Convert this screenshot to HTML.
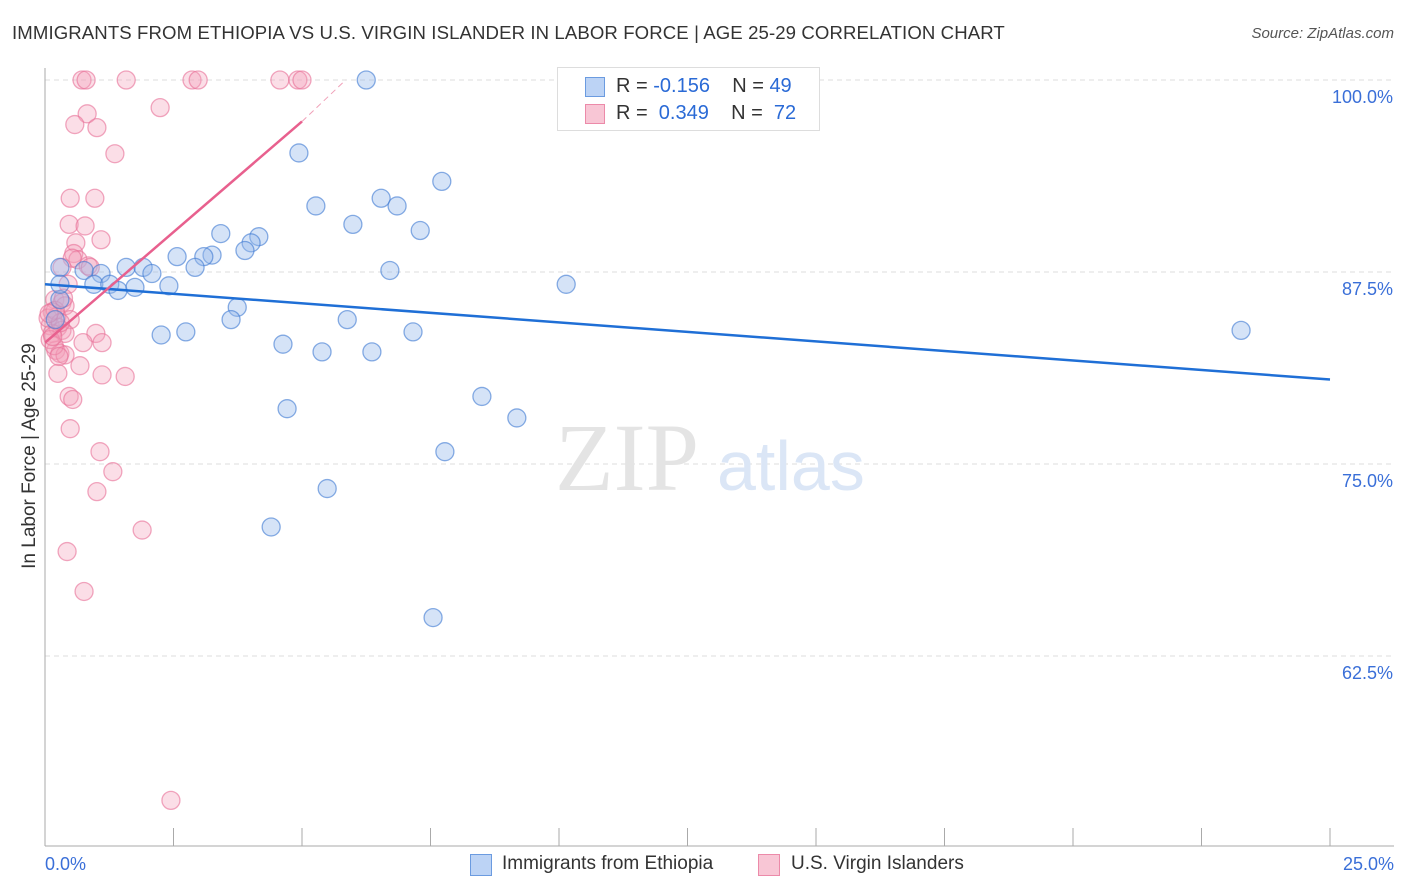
<!DOCTYPE html>
<html><head><meta charset="utf-8"><style>
body{margin:0;background:#fff;font-family:"Liberation Sans",sans-serif;}
#wrap{position:relative;width:1406px;height:892px;overflow:hidden;}
.t{position:absolute;white-space:nowrap;}
</style></head><body>
<div id="wrap">
<div class="t" style="left:12px;top:22px;font-size:18.6px;color:#333;letter-spacing:0.1px;">IMMIGRANTS FROM ETHIOPIA VS U.S. VIRGIN ISLANDER IN LABOR FORCE | AGE 25-29 CORRELATION CHART</div>
<div class="t" style="right:12px;top:25px;font-size:15px;color:#555;font-style:italic;">Source: ZipAtlas.com</div>
<svg id="plot" width="1406" height="892" style="position:absolute;left:0;top:0"></svg>
</div>
<script>
const xTickLabels=["0.0%","25.0%"];
const yTicks=[100,87.5,75,62.5];
const yTickLabels=["100.0%","87.5%","75.0%","62.5%"];
const blueX=[6.25,4.94,5.27,5.99,6.54,6.85,7.30,7.72,3.42,4.16,4.01,3.89,3.25,3.09,2.57,2.92,1.58,1.91,2.08,1.09,0.76,0.29,0.95,1.26,1.42,1.75,2.41,6.71,10.14,3.74,3.62,5.88,2.26,2.74,7.16,4.63,5.39,6.36,23.27,4.71,8.50,9.18,7.78,5.49,4.40,7.55,0.29,0.2,0.29];
const blueY=[100,95.25,91.8,90.6,92.3,91.8,90.2,93.4,90.0,89.8,89.4,88.9,88.6,88.5,88.5,87.8,87.8,87.8,87.4,87.4,87.6,87.8,86.7,86.7,86.3,86.5,86.6,87.6,86.7,85.2,84.4,84.4,83.4,83.6,83.6,82.8,82.3,82.3,83.7,78.6,79.4,78.0,75.8,73.4,70.9,65.0,85.7,84.4,86.7];
const pinkX=[0.72,0.80,1.58,2.86,2.98,4.57,4.92,5.0,2.24,0.82,0.58,1.01,1.36,0.49,0.97,0.47,0.78,0.60,1.09,0.56,0.64,0.53,0.84,0.33,0.88,0.45,0.19,0.33,0.39,0.14,0.23,0.49,0.10,0.25,0.33,0.14,0.39,0.99,0.74,1.11,0.21,0.29,0.39,0.68,0.25,1.11,1.56,0.47,0.54,0.49,1.07,1.32,1.01,1.89,0.43,0.76,2.45,0.06,0.1,0.18,0.2,0.3,0.15,0.36,0.08,0.27];
const pinkY=[100,100,100,100,100,100,100,100,98.2,97.8,97.1,96.9,95.2,92.3,92.3,90.6,90.5,89.4,89.6,88.7,88.3,88.4,87.9,87.8,87.8,86.7,85.7,85.5,85.3,84.9,84.6,84.4,84.0,83.9,83.7,83.5,83.5,83.5,82.9,82.9,82.4,82.2,82.1,81.4,80.9,80.8,80.7,79.4,79.2,77.3,75.8,74.5,73.2,70.7,69.3,66.7,53.1,84.5,83.1,82.7,85.0,84.2,83.3,85.8,84.8,82.0];
const blueTrend=[[0,86.7],[25,80.5]];
const pinkTrend=[[0,82.9],[5,97.3],[5.85,100]];
const NS="http://www.w3.org/2000/svg";
const svg=document.getElementById('plot');
const X=v=>45+v/25*1285;
const Y=v=>80+(100-v)/12.5*192;
function mk(tag,a){const e=document.createElementNS(NS,tag);for(const k in a)e.setAttribute(k,a[k]);svg.appendChild(e);return e;}
yTicks.forEach((t,i)=>{
 const g=mk('line',{x1:45,x2:1394,y1:Y(t),y2:Y(t),stroke:'#ddd','stroke-dasharray':'5,4'});
 
 
 const tx=mk('text',{x:1393,y:Y(t)+23,'text-anchor':'end','font-size':18,fill:'#3a6fd8','font-family':'Liberation Sans'});
 tx.textContent=yTickLabels[i];
 
 
});
let a=mk('line',{x1:45,x2:45,y1:68,y2:846,stroke:'#aaa'});


a=mk('line',{x1:45,x2:1394,y1:846,y2:846,stroke:'#aaa'});


for(let i=0;i<=10;i++){const l=mk('line',{x1:X(i*2.5),x2:X(i*2.5),y1:828,y2:846,stroke:'#aaa'});
 
 }
[[0,'start',45],[1,'end',1394]].forEach(([i,an,x])=>{const t=mk('text',{x:x,y:870,'text-anchor':an,'font-size':18,fill:'#3a6fd8','font-family':'Liberation Sans'});t.textContent=xTickLabels[i];
 
 });
let w=mk('text',{x:555,y:490,'font-size':96,fill:'#e4e4e4','font-family':'Liberation Serif'});w.textContent='ZIP';


w=mk('text',{x:717,y:490,'font-size':70,fill:'#dbe6f6','font-family':'Liberation Sans'});w.textContent='atlas';


pinkX.forEach((v,i)=>{const c=mk('circle',{cx:X(v),cy:Y(pinkY[i]),r:9,fill:'rgba(244,160,185,0.35)',stroke:'rgba(232,110,150,0.6)','stroke-width':1.3});
 
 });
blueX.forEach((v,i)=>{const c=mk('circle',{cx:X(v),cy:Y(blueY[i]),r:9,fill:'rgba(150,185,235,0.4)',stroke:'rgba(60,120,210,0.6)','stroke-width':1.3});
 
 });
let l=mk('line',{x1:X(blueTrend[0][0]),y1:Y(blueTrend[0][1]),x2:X(blueTrend[1][0]),y2:Y(blueTrend[1][1]),stroke:'#1f6fd6','stroke-width':2.5});


l=mk('line',{x1:X(pinkTrend[0][0]),y1:Y(pinkTrend[0][1]),x2:X(pinkTrend[1][0]),y2:Y(pinkTrend[1][1]),stroke:'#e8608e','stroke-width':2.5});


l=mk('line',{x1:X(pinkTrend[1][0]),y1:Y(pinkTrend[1][1]),x2:X(pinkTrend[2][0]),y2:Y(pinkTrend[2][1]),stroke:'#f0a0b8','stroke-width':1,'stroke-dasharray':'6,4'});


</script>
<div class="t" style="left:-85px;top:445px;font-size:19px;color:#333;transform:rotate(-90deg);width:230px;text-align:center;">In Labor Force | Age 25-29</div>
<div style="position:absolute;left:557px;top:67px;width:261px;height:62px;border:1px solid #ddd;background:#fff;font-size:20px;">
 <div style="position:absolute;left:27px;top:9px;width:18px;height:18px;background:#bcd3f5;border:1px solid #6b9be0;"></div>
 <div class="t" style="left:58px;top:7px;color:#333;">R = <span style="color:#2a6ad6">-0.156</span>&nbsp;&nbsp;&nbsp; N = <span style="color:#2a6ad6">49</span></div>
 <div style="position:absolute;left:27px;top:36px;width:18px;height:18px;background:#f8c6d5;border:1px solid #ec8aa9;"></div>
 <div class="t" style="left:58px;top:34px;color:#333;">R = &nbsp;<span style="color:#2a6ad6">0.349</span>&nbsp;&nbsp;&nbsp; N = &nbsp;<span style="color:#2a6ad6">72</span></div>
</div>
<div style="position:absolute;left:470px;top:853px;font-size:19px;color:#333;">
 <div style="position:absolute;left:0;top:1px;width:20px;height:20px;background:#bcd3f5;border:1px solid #6b9be0;"></div>
 <div class="t" style="left:32px;top:0;">Immigrants from Ethiopia</div>
 <div style="position:absolute;left:288px;top:1px;width:20px;height:20px;background:#f8c6d5;border:1px solid #ec8aa9;"></div>
 <div class="t" style="left:321px;top:0;">U.S. Virgin Islanders</div>
</div>
</body></html>
